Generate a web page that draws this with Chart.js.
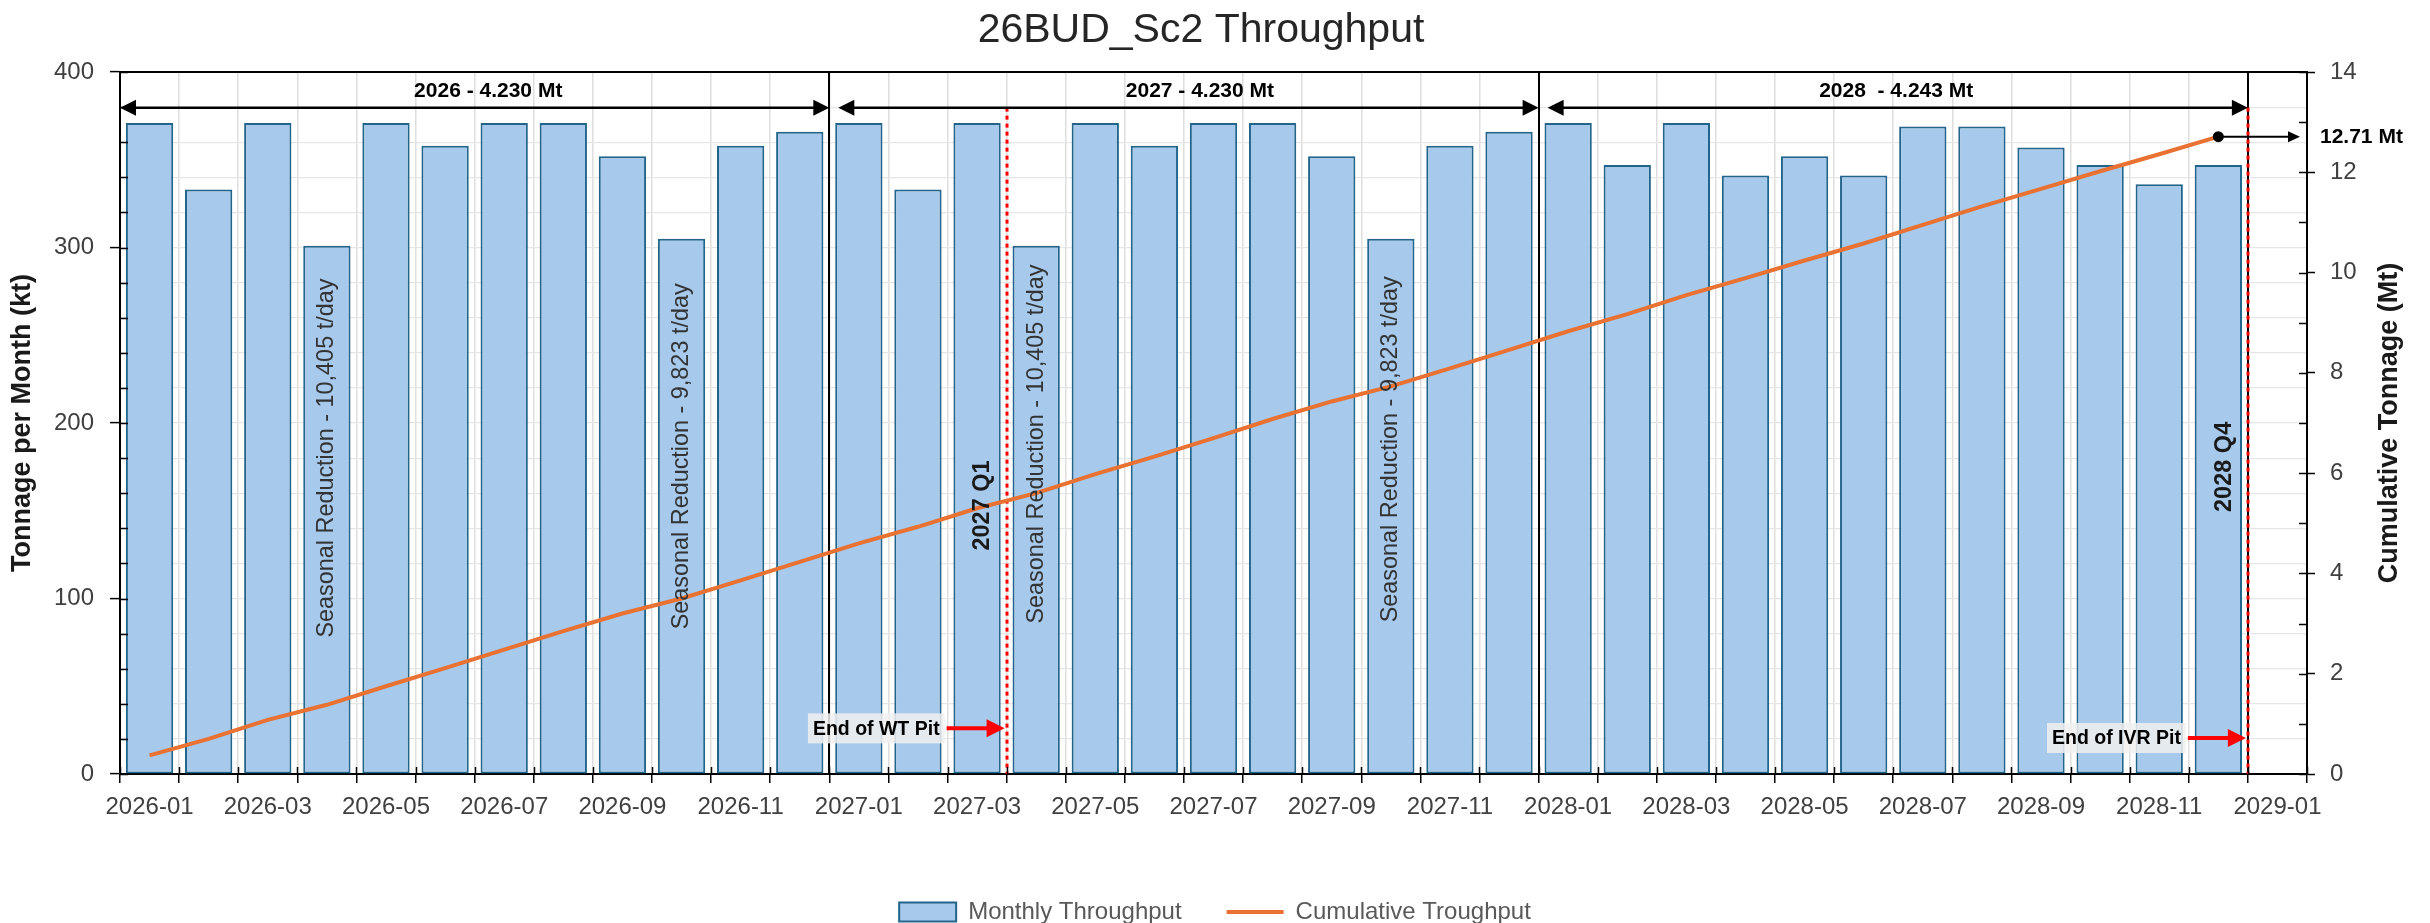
<!DOCTYPE html>
<html>
<head>
<meta charset="utf-8">
<title>26BUD_Sc2 Throughput</title>
<script src="https://cdn.jsdelivr.net/npm/chart.js@4.4.1/dist/chart.umd.min.js"></script>
<style>
  html, body { margin: 0; padding: 0; background: #fff; }
  #wrap { width: 2430px; height: 923px; }
</style>
</head>
<body>
<div id="wrap"><canvas id="chart" width="2430" height="923"></canvas></div>
<script>
// months on the axis (last slot 2029-01 has no bar)
const months = [
  '2026-01', '2026-02', '2026-03', '2026-04', '2026-05', '2026-06', '2026-07', '2026-08', '2026-09', '2026-10', '2026-11', '2026-12',
  '2027-01', '2027-02', '2027-03', '2027-04', '2027-05', '2027-06', '2027-07', '2027-08', '2027-09', '2027-10', '2027-11', '2027-12',
  '2028-01', '2028-02', '2028-03', '2028-04', '2028-05', '2028-06', '2028-07', '2028-08', '2028-09', '2028-10', '2028-11', '2028-12',
  '2029-01'
];

// monthly throughput, kt
const monthlyKt = [
  371, 333, 371, 301, 371, 358, 371, 371, 352, 305, 358, 366,
  371, 333, 371, 301, 371, 358, 371, 371, 352, 305, 358, 366,
  371, 347, 371, 341, 352, 341, 369, 369, 357, 347, 336, 347
];

// cumulative throughput, Mt
const cumulativeMt = [
  0.37, 0.70, 1.08, 1.38, 1.75, 2.11, 2.48, 2.85, 3.20, 3.50, 3.86, 4.23,
  4.60, 4.93, 5.30, 5.60, 5.98, 6.33, 6.70, 7.08, 7.43, 7.73, 8.09, 8.46,
  8.83, 9.17, 9.55, 9.89, 10.24, 10.58, 10.95, 11.32, 11.67, 12.02, 12.36, 12.71
];

const leftTicks = [0, 100, 200, 300, 400];
const rightTicks = [0, 2, 4, 6, 8, 10, 12, 14];

// annotations (x in category index, y in kt)
const yearLabels = ['2026 - 4.230 Mt', '2027 - 4.230 Mt', '2028  - 4.243 Mt'];
const yearStart = [-0.5, 11.5, 23.5];
const yearEnd = [11.5, 23.5, 35.5];
const yearLabelIndex = [5.73, 17.77, 29.55];
const yearArrowKt = 379.7;
const yearLabelKt = 389.3;
const yearBreaks = [11.5, 23.5, 35.5];

const seasonalText = [
  'Seasonal Reduction - 10,405 t/day', 'Seasonal Reduction - 9,823 t/day',
  'Seasonal Reduction - 10,405 t/day', 'Seasonal Reduction - 9,823 t/day'
];
const seasonalIndex = [3, 9, 15, 21];
const seasonalKt = [180, 181, 188, 185];

const quarterText = ['2027 Q1', '2028 Q4'];
const quarterIndex = [14.1, 35.1];
const quarterKt = [153, 175];

const pitText = ['End of WT Pit', 'End of IVR Pit'];
const pitIndex = [14.5, 35.5];
const pitKt = [26, 20.5];

const chartTitle = '26BUD_Sc2 Throughput';
const totalLabel = '12.71 Mt';

const FONT = "'Liberation Sans', Arial, sans-serif";
Chart.defaults.font.family = FONT;
Chart.defaults.color = '#404040';

const line = (ctx, x0, y0, x1, y1) => {
  ctx.beginPath();
  ctx.moveTo(x0, y0);
  ctx.lineTo(x1, y1);
  ctx.stroke();
};

const head = (ctx, x, y, dir, len, half) => {
  ctx.beginPath();
  ctx.moveTo(x, y);
  ctx.lineTo(x - dir * len, y - half);
  ctx.lineTo(x - dir * len, y + half);
  ctx.closePath();
  ctx.fill();
};

const annotate = {
  id: 'annotate',
  beforeDatasetsDraw(chart) {
    const { ctx, chartArea: a, scales: { x, y } } = chart;
    ctx.save();
    ctx.strokeStyle = '#000';
    ctx.lineWidth = 2;
    yearBreaks.forEach((i) => {
      const px = Math.round(x.getPixelForValue(i));
      line(ctx, px, a.top, px, a.bottom);
    });
    ctx.strokeStyle = '#FF0000';
    ctx.lineWidth = 3;
    ctx.setLineDash([4, 4]);
    pitIndex.forEach((i) => {
      const px = Math.round(x.getPixelForValue(i));
      line(ctx, px, y.getPixelForValue(yearArrowKt), px, a.bottom);
    });
    ctx.restore();
  },
  afterDatasetsDraw(chart) {
    const { ctx, chartArea: a, scales: { x, y } } = chart;
    ctx.save();

    // year span arrows
    ctx.strokeStyle = '#000';
    ctx.fillStyle = '#000';
    ctx.lineWidth = 2.5;
    const ay = y.getPixelForValue(yearArrowKt);
    yearStart.forEach((s, k) => {
      const x0 = x.getPixelForValue(s) + (k === 0 ? 0 : 9);
      const x1 = x.getPixelForValue(yearEnd[k]);
      line(ctx, x0 + 8, ay, x1 - 8, ay);
      head(ctx, x0, ay, -1, 16, 8);
      head(ctx, x1, ay, 1, 16, 8);
      ctx.font = `bold 21px ${FONT}`;
      ctx.textAlign = 'center';
      ctx.textBaseline = 'middle';
      ctx.fillText(yearLabels[k], x.getPixelForValue(yearLabelIndex[k]), y.getPixelForValue(yearLabelKt));
    });

    // seasonal reduction notes
    ctx.fillStyle = '#333';
    ctx.font = `23.4px ${FONT}`;
    seasonalText.forEach((t, k) => {
      ctx.save();
      ctx.translate(x.getPixelForValue(seasonalIndex[k]), y.getPixelForValue(seasonalKt[k]));
      ctx.rotate(-Math.PI / 2);
      ctx.fillText(t, 0, 0);
      ctx.restore();
    });

    // quarter markers
    ctx.fillStyle = '#1a1a1a';
    ctx.font = `bold 23.5px ${FONT}`;
    quarterText.forEach((t, k) => {
      ctx.save();
      ctx.translate(x.getPixelForValue(quarterIndex[k]), y.getPixelForValue(quarterKt[k]));
      ctx.rotate(-Math.PI / 2);
      ctx.fillText(t, 0, 0);
      ctx.restore();
    });

    // end of pit call-outs
    ctx.font = `bold 19.5px ${FONT}`;
    pitText.forEach((t, k) => {
      const tip = x.getPixelForValue(pitIndex[k]) - 2;
      const py = y.getPixelForValue(pitKt[k]);
      const boxRight = tip - 60;
      const w = ctx.measureText(t).width + 10;
      ctx.fillStyle = 'rgba(240,240,240,0.85)';
      ctx.fillRect(boxRight - w, py - 15, w, 30);
      ctx.fillStyle = '#000';
      ctx.fillText(t, boxRight - w / 2, py + 1);
      ctx.strokeStyle = '#FF0000';
      ctx.fillStyle = '#FF0000';
      ctx.lineWidth = 4;
      line(ctx, boxRight + 2, py, tip - 16, py);
      head(ctx, tip, py, 1, 18, 9);
    });

    // final cumulative value
    const meta = chart.getDatasetMeta(1);
    const pt = meta.data[cumulativeMt.length - 1];
    ctx.fillStyle = '#000';
    ctx.strokeStyle = '#000';
    ctx.beginPath();
    ctx.arc(pt.x, pt.y, 5.5, 0, Math.PI * 2);
    ctx.fill();
    ctx.lineWidth = 2;
    const tipX = a.right - 7;
    line(ctx, pt.x, pt.y, tipX - 10, pt.y);
    head(ctx, tipX, pt.y, 1, 12, 5.5);
    ctx.font = `bold 21px ${FONT}`;
    ctx.textAlign = 'left';
    ctx.fillText(totalLabel, a.right + 13, pt.y + 1);

    ctx.restore();
  },
  afterDraw(chart) {
    const { ctx, chartArea: a, scales: { x, y, y1 } } = chart;
    ctx.save();
    ctx.strokeStyle = '#000';
    ctx.lineWidth = 1.5;
    // inside tick marks
    for (let v = 0; v <= 400; v += 20) {
      const py = Math.round(y.getPixelForValue(v)) + 0.5;
      line(ctx, a.left, py, a.left + 8, py);
    }
    for (let v = 0; v <= 14; v += 1) {
      const py = Math.round(y1.getPixelForValue(v)) + 0.5;
      line(ctx, a.right - 8, py, a.right, py);
    }
    for (let i = -0.5; i <= months.length - 0.5; i += 1) {
      const px = Math.round(x.getPixelForValue(i)) + 0.5;
      line(ctx, px, a.bottom - 7, px, a.bottom);
    }
    // top frame
    ctx.lineWidth = 2;
    line(ctx, a.left, a.top, a.right, a.top);

    // chart title
    ctx.fillStyle = '#262626';
    ctx.font = `41px ${FONT}`;
    ctx.textAlign = 'center';
    ctx.textBaseline = 'middle';
    ctx.fillText(chartTitle, 1201, 31);

    // right axis title
    ctx.fillStyle = '#1a1a1a';
    ctx.font = `bold 27px ${FONT}`;
    ctx.translate(2390, (a.top + a.bottom) / 2);
    ctx.rotate(-Math.PI / 2);
    ctx.fillText('Cumulative Tonnage (Mt)', 0, 0);
    ctx.restore();
  }
};

const tickMark = (ticks) => (c) => (c.tick && ticks.includes(c.tick.value) ? '#000' : 'rgba(0,0,0,0)');

new Chart(document.getElementById('chart'), {
  data: {
    labels: months,
    datasets: [
      {
        type: 'bar',
        label: 'Monthly Throughput',
        data: monthlyKt,
        yAxisID: 'y',
        backgroundColor: '#A6C9EC',
        borderColor: '#23648A',
        borderWidth: 2,
        borderSkipped: false,
        barPercentage: 0.8,
        categoryPercentage: 1.0,
        pointStyle: 'rect',
        order: 2,
      },
      {
        type: 'line',
        label: 'Cumulative Troughput',
        data: cumulativeMt,
        yAxisID: 'y1',
        borderColor: '#E97132',
        backgroundColor: '#E97132',
        borderWidth: 4,
        pointRadius: 0,
        tension: 0,
        pointStyle: 'line',
        order: 1,
      },
    ],
  },
  options: {
    responsive: false,
    animation: false,
    layout: { padding: { left: 0, right: 0, top: 72, bottom: -11 } },
    plugins: {
      tooltip: { enabled: false },
      title: { display: false },
      legend: {
        position: 'bottom',
        labels: {
          usePointStyle: true,
          pointStyleWidth: 57,
          boxHeight: 19,
          padding: 45,
          color: '#595959',
          font: { size: 24 },
          sort: (p, q) => p.datasetIndex - q.datasetIndex,
        },
      },
    },
    scales: {
      x: {
        type: 'category',
        offset: true,
        grid: { offset: true, color: '#DEDEDE', lineWidth: 1.5, tickLength: 9, tickColor: '#000', tickWidth: 1.5 },
        border: { color: '#000', width: 2 },
        ticks: {
          autoSkip: false,
          maxRotation: 0,
          minRotation: 0,
          padding: 10,
          color: '#404040',
          font: { size: 24 },
          callback: (v, i) => (i % 2 === 0 ? months[i] : ''),
        },
        afterFit: (s) => { s.height = 81; },
      },
      y: {
        position: 'left',
        min: 0,
        max: 400,
        ticks: {
          stepSize: 20,
          padding: 16,
          color: '#404040',
          font: { size: 24 },
          callback: (v) => (leftTicks.includes(v) ? v : ''),
        },
        grid: { color: '#E6E6E6', lineWidth: 1.2, tickLength: 10, tickWidth: 1.5, tickColor: tickMark(leftTicks) },
        border: { color: '#000', width: 2 },
        title: {
          display: true,
          text: 'Tonnage per Month (kt)',
          color: '#1a1a1a',
          font: { size: 27, weight: 'bold' },
          padding: { top: 6, bottom: 0 },
        },
        afterFit: (s) => { s.width = 120; },
      },
      y1: {
        position: 'right',
        min: 0,
        max: 14,
        ticks: {
          stepSize: 1,
          padding: 15,
          color: '#404040',
          font: { size: 24 },
          callback: (v) => (rightTicks.includes(v) ? v : ''),
        },
        grid: { drawOnChartArea: false, tickLength: 8, tickWidth: 1.5, tickColor: tickMark(rightTicks) },
        border: { color: '#000', width: 2 },
        afterFit: (s) => { s.width = 123; },
      },
    },
  },
  plugins: [annotate],
});
</script>
</body>
</html>
